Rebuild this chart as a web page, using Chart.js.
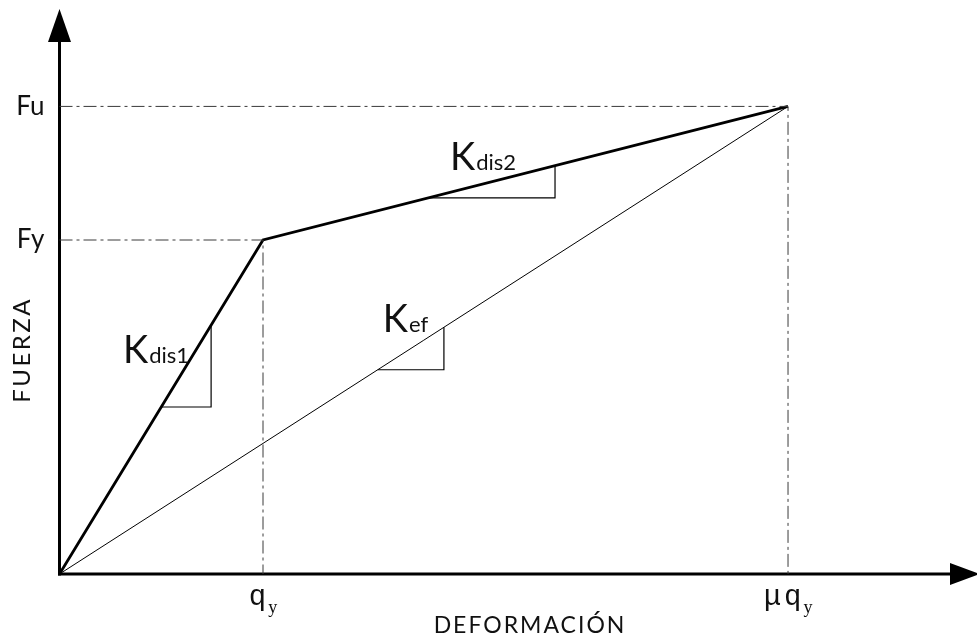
<!DOCTYPE html>
<html>
<head>
<meta charset="utf-8">
<script src="https://cdn.jsdelivr.net/npm/chart.js@4.4.1/dist/chart.umd.min.js"></script>
<style>
html,body{margin:0;padding:0;background:#fff;}
#wrap{width:977px;height:635px;}
</style>
</head>
<body>
<div id="wrap"><canvas id="c" width="977" height="635"></canvas></div>
<script>
// ---- data (in units of qy and Fy) ----
const dispPoints   = [0, 1, 3.58];      // 0, qy, mu*qy
const forcePoints  = [0, 1, 1.40];      // 0, Fy, Fu
const secantDisp   = [0, 3.58];
const secantForce  = [0, 1.40];

const yTickValues  = [1, 1.40];
const yTickLabels  = ['Fy', 'Fu'];
const xTickValues  = [1, 3.58];
const xTickMain    = ['q', 'μq'];
const xTickSub     = ['y', 'y'];

// slope triangles (legs only): [x1,y1] -> [x2,y1] -> [x2,y2]
const triKdis1 = [[0.50, 0.50], [0.745, 0.50], [0.745, 0.745]];
const triKdis2 = [[1.813, 1.126], [2.435, 1.126], [2.435, 1.2225]];
const triKef   = [[1.564, 0.6115], [1.889, 0.6115], [1.889, 0.739]];

// slope labels: main letter, subscript, anchor (x, baseline y)
const slopeMain = ['K', 'K', 'K'];
const slopeSub  = ['dis1', 'dis2', 'ef'];
const slopeX    = [0.312, 1.919, 1.589];
const slopeY    = [0.632, 1.2096, 0.7246];

const xAxisTitle = 'DEFORMACIÓN';
const yAxisTitle = 'FUERZA';

// ---- datasets ----
const toPts = (xs, ys) => xs.map((x, i) => ({x: x, y: ys[i]}));
const arrPts = a => a.map(p => ({x: p[0], y: p[1]}));
const guideStyle = {borderColor: '#3a3a3a', borderWidth: 1, borderDash: [13, 4, 3, 4], pointRadius: 0, showLine: true, fill: false};
const datasets = [
  Object.assign({data: [{x: 0, y: forcePoints[1]}, {x: dispPoints[1], y: forcePoints[1]}, {x: dispPoints[1], y: 0}]}, guideStyle),
  Object.assign({data: [{x: 0, y: forcePoints[2]}, {x: dispPoints[2], y: forcePoints[2]}, {x: dispPoints[2], y: 0}]}, guideStyle),
  {data: toPts(secantDisp, secantForce), borderColor: '#000', borderWidth: 1, pointRadius: 0, showLine: true},
  {data: arrPts(triKdis1), borderColor: '#000', borderWidth: 1.2, pointRadius: 0, showLine: true},
  {data: arrPts(triKdis2), borderColor: '#000', borderWidth: 1.2, pointRadius: 0, showLine: true},
  {data: arrPts(triKef), borderColor: '#000', borderWidth: 1.2, pointRadius: 0, showLine: true},
  {data: toPts(dispPoints, forcePoints), borderColor: '#000', borderWidth: 2.8, pointRadius: 0, showLine: true, borderJoinStyle: 'miter'}
];

const decor = {
  id: 'decor',
  beforeDatasetsDraw(chart) {
    const ctx = chart.ctx, xs = chart.scales.x, ys = chart.scales.y, a = chart.chartArea;
    const x0 = xs.getPixelForValue(0), y0 = ys.getPixelForValue(0);
    ctx.save();
    ctx.strokeStyle = '#000'; ctx.fillStyle = '#000'; ctx.lineWidth = 3;
    // y axis
    ctx.beginPath(); ctx.moveTo(x0, y0 + 1.5); ctx.lineTo(x0, a.top + 40); ctx.stroke();
    ctx.beginPath(); ctx.moveTo(x0, a.top + 9); ctx.lineTo(x0 - 11.5, a.top + 42); ctx.lineTo(x0 + 11.5, a.top + 42); ctx.closePath(); ctx.fill();
    // x axis
    ctx.beginPath(); ctx.moveTo(x0 - 1.5, y0); ctx.lineTo(a.right - 25, y0); ctx.stroke();
    ctx.beginPath(); ctx.moveTo(a.right + 3, y0); ctx.lineTo(a.right - 27, y0 - 11); ctx.lineTo(a.right - 27, y0 + 11); ctx.closePath(); ctx.fill();
    ctx.restore();
  },
  afterDatasetsDraw(chart) {
    const ctx = chart.ctx, xs = chart.scales.x, ys = chart.scales.y;
    const x0 = xs.getPixelForValue(0), y0 = ys.getPixelForValue(0);
    ctx.save();
    ctx.fillStyle = '#111';
    // y tick labels
    ctx.font = '26px Lato';
    ctx.textAlign = 'right'; ctx.textBaseline = 'middle';
    yTickValues.forEach((v, i) => ctx.fillText(yTickLabels[i], x0 - 15, ys.getPixelForValue(v)));
    // x tick labels
    ctx.textBaseline = 'alphabetic'; ctx.textAlign = 'left';
    xTickValues.forEach((v, i) => {
      ctx.letterSpacing = '3px';
      ctx.font = '29px "Liberation Mono"';
      const wm = ctx.measureText(xTickMain[i]).width - 3;
      ctx.letterSpacing = '0px';
      ctx.font = '18px "Liberation Serif"';
      const ws = ctx.measureText(xTickSub[i]).width;
      const start = xs.getPixelForValue(v) - (wm + 2 + ws) / 2;
      ctx.letterSpacing = '3px';
      ctx.font = '29px "Liberation Mono"';
      ctx.fillText(xTickMain[i], start, y0 + 31);
      ctx.letterSpacing = '0px';
      ctx.font = '18px "Liberation Serif"';
      ctx.fillText(xTickSub[i], start + wm + 2, y0 + 39);
    });
    // slope labels
    slopeMain.forEach((m, i) => {
      const px = xs.getPixelForValue(slopeX[i]), py = ys.getPixelForValue(slopeY[i]);
      ctx.font = '38px Lato';
      ctx.fillText(m, px, py);
      const w = ctx.measureText(m).width;
      ctx.font = '22px Lato';
      ctx.fillText(slopeSub[i], px + w + 1, py);
    });
    // axis titles
    ctx.font = '23px Lato';
    ctx.letterSpacing = '2px';
    ctx.textAlign = 'center'; ctx.textBaseline = 'middle';
    ctx.fillText(xAxisTitle, xs.getPixelForValue(2.312), ys.getPixelForValue(-0.153));
    ctx.translate(xs.getPixelForValue(-0.184), ys.getPixelForValue(0.671));
    ctx.rotate(-Math.PI / 2);
    ctx.font = '24px Lato';
    ctx.letterSpacing = '2.5px';
    ctx.fillText(yAxisTitle, 0, 0);
    ctx.restore();
  }
};

new Chart(document.getElementById('c'), {
  type: 'scatter',
  data: {datasets: datasets},
  options: {
    responsive: false,
    animation: false,
    layout: {padding: 0},
    plugins: {legend: {display: false}, tooltip: {enabled: false}},
    elements: {line: {tension: 0}},
    scales: {
      x: {type: 'linear', display: false, min: -0.2924, max: 4.5086},
      y: {type: 'linear', display: false, min: -0.1826, max: 1.7186}
    }
  },
  plugins: [decor]
});
</script>
</body>
</html>
